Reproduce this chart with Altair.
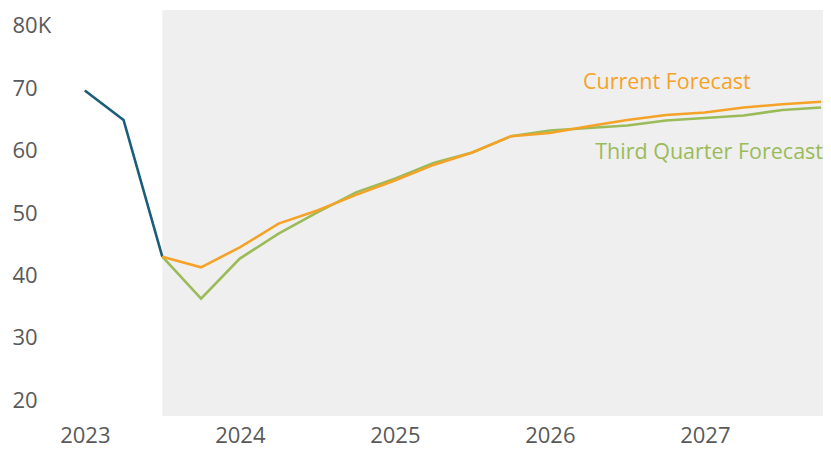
import altair as alt
import pandas as pd

# Quarterly periods
quarters = ["2023Q1", "2023Q2", "2023Q3", "2023Q4",
            "2024Q1", "2024Q2", "2024Q3", "2024Q4",
            "2025Q1", "2025Q2", "2025Q3", "2025Q4",
            "2026Q1", "2026Q2", "2026Q3", "2026Q4",
            "2027Q1", "2027Q2", "2027Q3", "2027Q4"]

history = [69.6, 64.9, 43.0]  # 2023Q1-2023Q3
current_forecast = [43.0, 41.3, 44.5, 48.3, 50.4, 52.9, 55.2, 57.7, 59.7, 62.3,
                    62.8, 63.9, 64.9, 65.7, 66.1, 66.9, 67.4, 67.8]  # 2023Q3-2027Q4
third_quarter_forecast = [43.0, 36.3, 42.7, 46.7, 50.1, 53.3, 55.5, 58.0, 59.7, 62.3,
                          63.2, 63.6, 64.0, 64.8, 65.2, 65.6, 66.5, 66.9]

year_ticks = [2023, 2024, 2025, 2026, 2027]
y_ticks = [20, 30, 40, 50, 60, 70, 80]

series_names = ["History", "Third Quarter Forecast", "Current Forecast"]
series_colors = ["#1b5e7a", "#9bbb59", "#f5a228"]


def qnum(q):
    return int(q[:4]) + (int(q[-1]) - 1) / 4


rows = []
for q, v in zip(quarters[:3], history):
    rows.append({"t": qnum(q), "v": v, "s": "History"})
for q, v in zip(quarters[2:], third_quarter_forecast):
    rows.append({"t": qnum(q), "v": v, "s": "Third Quarter Forecast"})
for q, v in zip(quarters[2:], current_forecast):
    rows.append({"t": qnum(q), "v": v, "s": "Current Forecast"})
df = pd.DataFrame(rows)

W, H = 763, 406
X_DOMAIN = [2022.84, 2022.84 + W / 155]
Y_DOMAIN = [17.5, 82.5]

xscale = alt.Scale(domain=X_DOMAIN, nice=False, zero=False)
yscale = alt.Scale(domain=Y_DOMAIN, nice=False, zero=False)

forecast_start = pd.DataFrame({"t": [qnum("2023Q3")], "t2": [X_DOMAIN[1]]})

shade = alt.Chart(forecast_start).mark_rect(color="#efefef").encode(
    x=alt.X("t:Q", scale=xscale,
            axis=alt.Axis(values=year_ticks, format="d", title=None, tickSize=0,
                          domain=False, grid=False, labelPadding=9,
                          labelFlush=False, labelOverlap=False)),
    x2="t2:Q",
    y=alt.value(0),
    y2=alt.value(H),
)

lines = alt.Chart(df).mark_line(strokeWidth=2.6).encode(
    x=alt.X("t:Q", scale=xscale),
    y=alt.Y("v:Q", scale=yscale,
            axis=alt.Axis(values=y_ticks, title=None, tickSize=0, domain=False,
                          grid=False, labelAlign="left", labelPadding=48,
                          labelOverlap=False, labelFlush=False,
                          labelExpr="datum.value == 80 ? '80K' : datum.label")),
    color=alt.Color("s:N", scale=alt.Scale(domain=series_names, range=series_colors),
                    legend=None),
    order=alt.Order("t:Q"),
    detail="s:N",
)

labels = pd.DataFrame({
    "text": ["Current Forecast", "Third Quarter Forecast"],
    "t": [2026.755, X_DOMAIN[1]],
    "v": [70.8, 59.6],
})

lab_c = alt.Chart(labels.iloc[[0]]).mark_text(
    font="Open Sans", fontSize=21.5, align="center", baseline="middle",
    color="#f5a228").encode(
    x=alt.X("t:Q", scale=xscale), y=alt.Y("v:Q", scale=yscale), text="text:N")
lab_t = alt.Chart(labels.iloc[[1]]).mark_text(
    font="Open Sans", fontSize=21.5, align="right", baseline="middle",
    color="#9bbb59").encode(
    x=alt.X("t:Q", scale=xscale), y=alt.Y("v:Q", scale=yscale), text="text:N")

chart = alt.layer(shade, lines, lab_c, lab_t).properties(
    width=W, height=H,
    autosize=alt.AutoSizeParams(type="none"),
    padding={"left": 52, "top": 2, "right": 0, "bottom": 33},
).configure_view(stroke=None).configure_axis(
    labelFont="Open Sans", labelFontSize=22, labelColor="#595959"
)

chart.save("out.html", embed_options={"renderer": "svg", "actions": False})
